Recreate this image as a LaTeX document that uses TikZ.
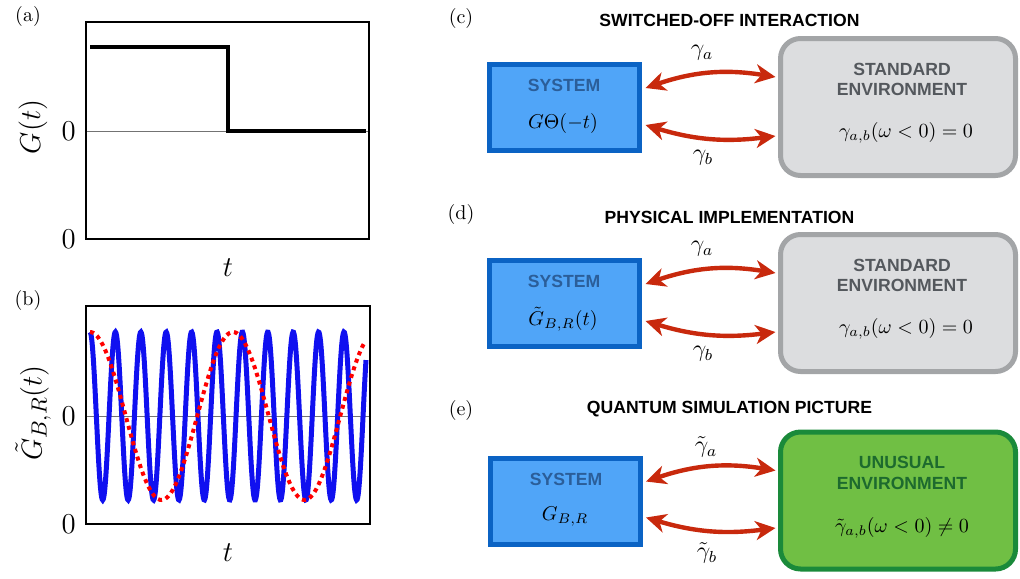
\documentclass[tikz,border=0pt]{standalone}
\usepackage{fontspec}
\setsansfont{Liberation Sans}
\usetikzlibrary{arrows.meta}
\definecolor{sysfill}{HTML}{50A5F8}
\definecolor{sysborder}{HTML}{0B63C4}
\definecolor{systext}{HTML}{2B5E99}
\definecolor{envfill}{HTML}{DCDDDF}
\definecolor{envborder}{HTML}{A3A5A7}
\definecolor{envtext}{HTML}{54585D}
\definecolor{grnfill}{HTML}{70BF44}
\definecolor{grnborder}{HTML}{1A8A3A}
\definecolor{grntext}{HTML}{1D6A2E}
\definecolor{arrowred}{HTML}{C8290D}
\definecolor{wblue}{HTML}{1010F0}
\begin{document}
\begin{tikzpicture}[x=0.5pt,y=-0.5pt,
  axlab/.style={font=\fontsize{15}{18}\selectfont, inner sep=0},
  plab/.style={font=\fontsize{10}{12}\selectfont, inner sep=0},
  ttl/.style={font=\fontsize{8.8}{10}\sffamily\bfseries\selectfont, inner sep=0},
  boxlab/.style={font=\fontsize{8.8}{10}\sffamily\bfseries\selectfont, inner sep=0},
  mlab/.style={font=\fontsize{10}{12}\selectfont, inner sep=0},
  glab/.style={font=\fontsize{12}{14}\selectfont, inner sep=0},
  sysbox/.style={draw=sysborder, fill=sysfill, line width=2.5pt, minimum width=75pt, minimum height=43pt, inner sep=0},
  envbox/.style={draw=envborder, fill=envfill, line width=2.5pt, rounded corners=10pt, minimum width=117.5pt, minimum height=68.5pt, inner sep=0},
  grnbox/.style={draw=grnborder, fill=grnfill, line width=2.5pt, rounded corners=10pt, minimum width=117.5pt, minimum height=68.5pt, inner sep=0},
  link/.style={line width=2.2pt, draw=arrowred, {Stealth[length=10pt,width=9.5pt,inset=3pt]}-{Stealth[length=10pt,width=9.5pt,inset=3pt]}},
  frame/.style={line width=1pt},
  zeroline/.style={line width=0.5pt, draw=black!55}]
\useasboundingbox (0,0) rectangle (1020,578);

% ---------- panel (a)
\node[plab] (la) at (28,16) {(a)};
\draw[zeroline] (86,131) -- (369,131);
\draw[line width=2pt] (90,47) -- (228,47) -- (228,131) -- (366,131);
\draw[frame] (86,22) rectangle (369,239);
\node[axlab, anchor=east] (za1) at (76,131) {$0$};
\node[axlab, anchor=east] (za2) at (76,239) {$0$};
\node[axlab, rotate=90] (ya) at (33,127) {$G(t)$};
\node[axlab] (xa) at (228,268) {$t$};

% ---------- panel (b)
\node[plab] (lb) at (28,300) {(b)};
\draw[zeroline] (86,416) -- (370,416);
\draw[wblue, line width=2.5pt] plot[domain=90:366, samples=500, smooth] (\x, {416-84*cos(14.1732*(\x-90))});
\draw[red, line width=2pt, dash pattern=on 2pt off 2pt] plot[domain=90:364, samples=150, smooth] (\x, {416-84*cos(2.5175*(\x-90))});
\draw[frame] (86,306) rectangle (370,524);
\node[axlab, anchor=east] (zb1) at (76,416) {$0$};
\node[axlab, anchor=east] (zb2) at (76,524) {$0$};
\node[axlab, rotate=90] (yb) at (33,413) {$\tilde G_{B,R}(t)$};
\node[axlab] (xb) at (228,553) {$t$};

% ---------- panel (c)
\node[plab] (lc) at (461,18) {(c)};
\node[ttl] (tc) at (729.5,20) {SWITCHED-OFF INTERACTION};
\node[sysbox] (sysc) at (564.5,107.5) {};
\node[boxlab, text=systext] (sysct) at (564,85) {SYSTEM};
\node[mlab] (sysck) at (563,123) {$G\Theta(-t)$};
\node[envbox] (envc) at (898,107) {};
\node[boxlab, text=envtext] (envc1) at (902,69) {STANDARD};
\node[boxlab, text=envtext] (envc2) at (902,89) {ENVIRONMENT};
\node[mlab] (envck) at (906,133) {$\gamma_{a,b}(\omega<0)=0$};
\draw[link] ([shift={(3.5,-19.5)}]sysc.east) to[bend left=14] ([shift={(-2.5,-30)}]envc.west);
\draw[link] ([shift={(3.5,17.5)}]sysc.east) to[bend right=12] ([shift={(-2.5,29)}]envc.west);
\node[glab] (gac) at (702,53) {$\gamma_a$};
\node[glab] (gbc) at (703,158) {$\gamma_b$};

% ---------- panel (d)
\node[plab] (ld) at (461,214) {(d)};
\node[ttl] (td) at (729.5,217) {PHYSICAL IMPLEMENTATION};
\node[sysbox] (sysd) at (564.5,303.5) {};
\node[boxlab, text=systext] (sysdt) at (564,281) {SYSTEM};
\node[mlab] (sysdk) at (563,319) {$\tilde G_{B,R}(t)$};
\node[envbox] (envd) at (898,303) {};
\node[boxlab, text=envtext] (envd1) at (902,265) {STANDARD};
\node[boxlab, text=envtext] (envd2) at (902,285) {ENVIRONMENT};
\node[mlab] (envdk) at (906,329) {$\gamma_{a,b}(\omega<0)=0$};
\draw[link] ([shift={(3.5,-19.5)}]sysd.east) to[bend left=14] ([shift={(-2.5,-30)}]envd.west);
\draw[link] ([shift={(3.5,17.5)}]sysd.east) to[bend right=12] ([shift={(-2.5,29)}]envd.west);
\node[glab] (gad) at (702,249) {$\gamma_a$};
\node[glab] (gbd) at (703,354) {$\gamma_b$};

% ---------- panel (e)
\node[plab] (le) at (461,410) {(e)};
\node[ttl] (te) at (729.5,409) {QUANTUM SIMULATION PICTURE};
\node[sysbox] (syse) at (565,501) {};
\node[boxlab, text=systext] (syset) at (566,479) {SYSTEM};
\node[mlab] (sysek) at (565,517) {$G_{B,R}$};
\node[grnbox] (enve) at (898,500.5) {};
\node[boxlab, text=grntext] (enve1) at (902,462) {UNUSUAL};
\node[boxlab, text=grntext] (enve2) at (902,483) {ENVIRONMENT};
\node[mlab] (envek) at (902,528) {$\tilde\gamma_{a,b}(\omega<0)\neq0$};
\draw[link] ([shift={(3.5,-19.5)}]syse.east) to[bend left=14] ([shift={(-2.5,-30)}]enve.west);
\draw[link] ([shift={(3.5,16.5)}]syse.east) to[bend right=12] ([shift={(-2.5,27.5)}]enve.west);
\node[glab] (gae) at (706,447) {$\tilde\gamma_a$};
\node[glab] (gbe) at (707,553) {$\tilde\gamma_b$};
\end{tikzpicture}
\end{document}
